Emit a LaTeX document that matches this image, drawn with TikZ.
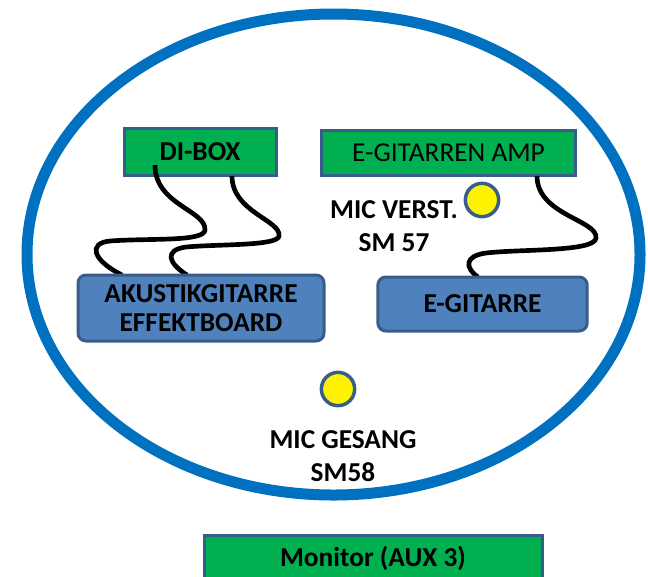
\documentclass[tikz,border=0pt]{standalone}
\usepackage{fontspec}
\setmainfont{Carlito}
\usepackage{xcolor}
\usetikzlibrary{calc}
\usetikzlibrary{positioning}

\definecolor{boxgreen}{HTML}{00B050}
\definecolor{boxblue}{HTML}{4F81BD}
\definecolor{boxedge}{HTML}{385D8A}
\definecolor{stageblue}{HTML}{0070C0}

\begin{document}
\begin{tikzpicture}[x=0.75pt,y=-0.75pt,
                    green box/.style={rectangle,draw=boxedge,line width=2.25pt,fill=boxgreen,
                      font=\fontsize{20.5}{22}\selectfont},
                    blue box/.style={rectangle,rounded corners=6pt,draw=boxedge,line width=2.25pt,
                      fill=boxblue,align=center,font=\fontsize{20.5}{22}\selectfont\bfseries},
                    mic node/.style={circle,draw=boxedge,line width=2.6pt,fill=yellow,
                      minimum size=25pt,inner sep=0pt},
                    mic label/.style={align=center,font=\fontsize{20.5}{24.5}\selectfont\bfseries},
                    cable/.style={line width=3.5pt,black}]
\useasboundingbox (0,0) rectangle (648,576);
%stage
  \draw[stageblue,line width=8.25pt] (333.5,254.5) ellipse [x radius=306.5,y radius=240.5];
%upper boxes
  \node[green box,minimum width=114pt,minimum height=35pt,font=\fontsize{20.5}{22}\selectfont\bfseries] (dibox) at (200,152) {DI-BOX};
  \node[green box,minimum width=191pt,minimum height=34pt] (amp) at (448.5,153) {E-GITARREN AMP};
%cable ends
  \coordinate (di a) at (155,165);
  \coordinate (di b) at (232,176);
  \coordinate (amp out) at (537,176);
  \coordinate (ak a) at (122,275);
  \coordinate (ak b) at (187,275);
  \coordinate (eg in) at (478,277);
%cables
  \draw[cable] (di a) .. controls (155,205) and (206,210) .. (205,230)
    .. controls (204,242) and (150,238) .. (110,241)
    .. controls (88,243) and (92,260) .. (ak a);
  \draw[cable] (di b) .. controls (232,212) and (281,220) .. (279,236)
    .. controls (278,246) and (220,244) .. (186,247)
    .. controls (164,250) and (168,263) .. (ak b);
  \draw[cable] (amp out) .. controls (537,215) and (598,220) .. (596,238)
    .. controls (595,252) and (520,249) .. (486,253)
    .. controls (464,256) and (465,268) .. (eg in);
%lower boxes
  \node[blue box,minimum width=184.5pt,minimum height=49.5pt] (akustik) at (201,308) {AKUSTIKGITARRE\\EFFEKTBOARD};
  \node[blue box,minimum width=157pt,minimum height=40.5pt] (egitarre) at (482.5,304) {E-GITARRE};
%mics
  \node[mic node] (mic amp) at (482,200) {};
  \node[mic label] (mic amp label) at (394,226) {MIC VERST.\\SM 57};
  \node[mic node] (mic voc) at (338,389) {};
  \node[mic label] (mic voc label) at (343,456) {MIC GESANG\\SM58};
%monitor
  \node[green box,minimum width=253.5pt,minimum height=34.5pt,font=\fontsize{20.5}{22}\selectfont\bfseries] (monitor) at (373,558) {Monitor (AUX 3)};
\end{tikzpicture}
\end{document}
